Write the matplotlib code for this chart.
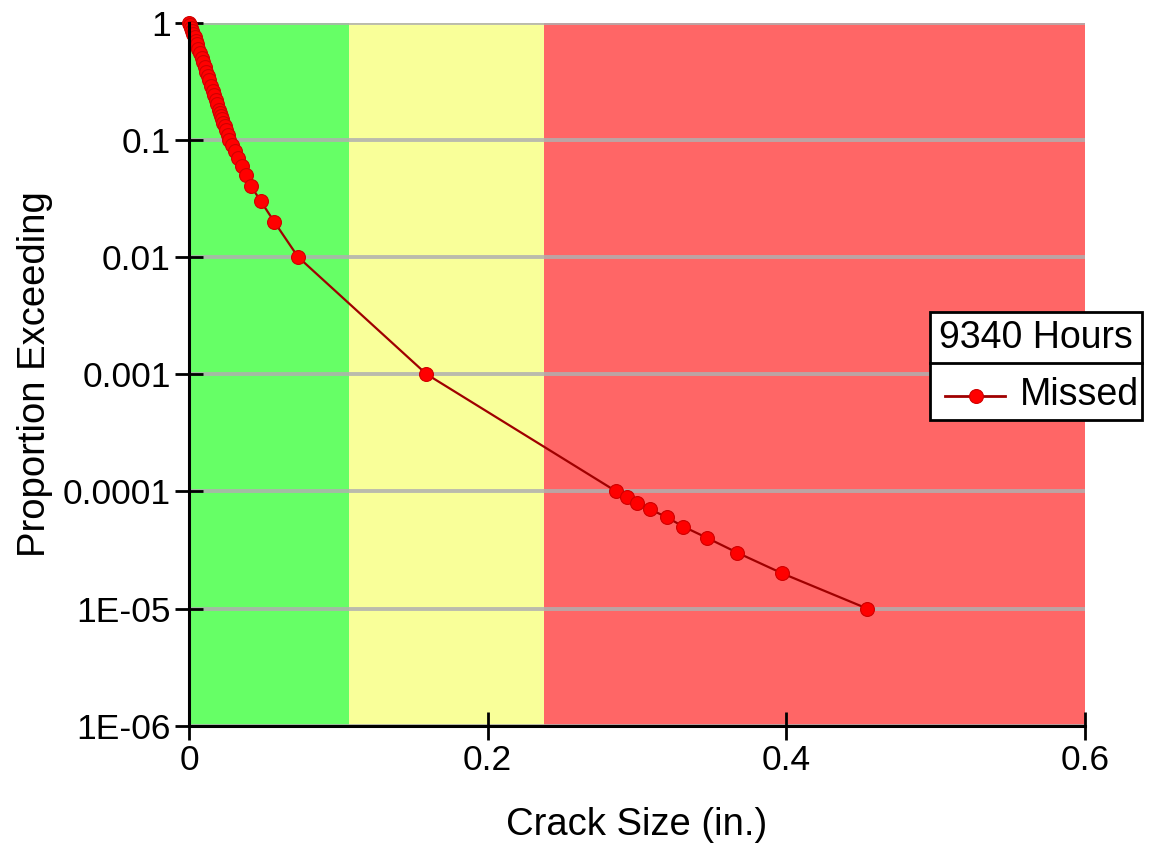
import matplotlib
matplotlib.use('Agg')
import matplotlib.pyplot as plt
from matplotlib.lines import Line2D
from matplotlib.patches import Rectangle

# proportion exceeding vs crack size
proportion = [1.0, 0.95, 0.9, 0.85, 0.8, 0.75, 0.7, 0.65, 0.6, 0.55, 0.5, 0.46, 0.42,
              0.38, 0.35, 0.32, 0.29, 0.26, 0.24, 0.22, 0.2, 0.18, 0.17, 0.16, 0.15,
              0.14, 0.13, 0.12, 0.11, 0.1, 0.09, 0.08, 0.07, 0.06, 0.05, 0.04,
              0.03, 0.02, 0.01, 0.001,
              1e-4, 9e-5, 8e-5, 7e-5, 6e-5, 5e-5, 4e-5, 3e-5, 2e-5, 1e-5]
crack_size = [0.0, 0.0007, 0.0014, 0.0021, 0.0029, 0.0037, 0.0045, 0.0054, 0.0063, 0.0073,
              0.0084, 0.0094, 0.0104, 0.0116, 0.0125, 0.0135, 0.0146, 0.0159, 0.0168,
              0.0178, 0.0189, 0.0201, 0.0208, 0.0215, 0.0222, 0.0230, 0.0239, 0.0248,
              0.0258, 0.0269, 0.0285, 0.0305, 0.0327, 0.0352, 0.0381, 0.0416,
              0.048, 0.057, 0.073, 0.159,
              0.286, 0.293, 0.300, 0.309, 0.320, 0.331, 0.347, 0.367, 0.397, 0.454]

# colour zones on the crack size axis
zone_edges = [0.0, 0.107, 0.238, 0.6]
zone_colors = ['#66ff66', '#f9ff99', '#ff6666']

y_ticks = [1, 0.1, 0.01, 0.001, 0.0001, 1e-5, 1e-6]
y_labels = ['1', '0.1', '0.01', '0.001', '0.0001', '1E-05', '1E-06']
x_ticks = [0, 0.2, 0.4, 0.6]
x_labels = ['0', '0.2', '0.4', '0.6']

plt.rcParams['font.family'] = ['Liberation Sans', 'DejaVu Sans']
W, H = 1150, 844

fig = plt.figure(figsize=(W / 100, H / 100), dpi=100)
ax = fig.add_axes([189 / W, 1 - 725.7 / H, (1085 - 189) / W, (725.7 - 22.5) / H])

for i in range(len(zone_colors)):
    ax.axvspan(zone_edges[i], zone_edges[i + 1], color=zone_colors[i], lw=0, zorder=0)

ax.set_yscale('log')
ax.set_xlim(0, 0.6)
ax.set_ylim(1e-6, 1)

for yt in y_ticks:
    ax.axhline(yt, color='#b0b0b0', lw=2.8, alpha=0.85, zorder=1)

ax.plot(crack_size, proportion, color='#a00000', lw=1.6, marker='o', markersize=10,
        markerfacecolor='#ff0000', markeredgecolor='#d00000', markeredgewidth=0.8,
        zorder=3, clip_on=False)

ax.set_yticks(y_ticks)
ax.set_yticklabels(y_labels)
ax.yaxis.set_minor_locator(matplotlib.ticker.NullLocator())
ax.set_xticks(x_ticks)
ax.set_xticklabels(x_labels)
ax.tick_params(axis='both', direction='inout', length=20, width=2, labelsize=25.5, color='black')
ax.tick_params(axis='y', pad=3)
ax.tick_params(axis='x', pad=3)

for s in ['top', 'right']:
    ax.spines[s].set_visible(False)
for s in ['left', 'bottom']:
    ax.spines[s].set_linewidth(2.2)
    ax.spines[s].set_zorder(4)

ax.set_xlabel('Crack Size (in.)', fontsize=27.5, labelpad=22)
ax.set_ylabel('Proportion Exceeding', fontsize=27.5)
ax.yaxis.set_label_coords((53 - 189) / 896, 0.5)

# legend box: title row and entry row
lx0, lx1, ly0, ymid, ly1 = 930, 1142, 312, 363, 420
fig.add_artist(Rectangle((lx0 / W, 1 - ly1 / H), (lx1 - lx0) / W, (ly1 - ly0) / H,
                         transform=fig.transFigure, facecolor='white', edgecolor='black',
                         lw=2, zorder=10))
fig.add_artist(Line2D([lx0 / W, lx1 / W], [1 - ymid / H, 1 - ymid / H], transform=fig.transFigure,
                      color='black', lw=2, zorder=11))
fig.text((lx0 + lx1) / 2 / W, 1 - 338 / H, '9340 Hours', fontsize=27, ha='center', va='center',
         zorder=12)
fig.add_artist(Line2D([945 / W, 1005 / W], [1 - 396 / H, 1 - 396 / H], transform=fig.transFigure,
                      color='#a00000', lw=2, zorder=12))
fig.add_artist(Line2D([976 / W], [1 - 396 / H], transform=fig.transFigure, marker='o',
                      markersize=10, markerfacecolor='#ff0000', markeredgecolor='#d00000',
                      markeredgewidth=0.8, zorder=13))
fig.text(1020 / W, 1 - 395 / H, 'Missed', fontsize=27, ha='left', va='center', zorder=12)

fig.savefig('out.png', dpi=100)
